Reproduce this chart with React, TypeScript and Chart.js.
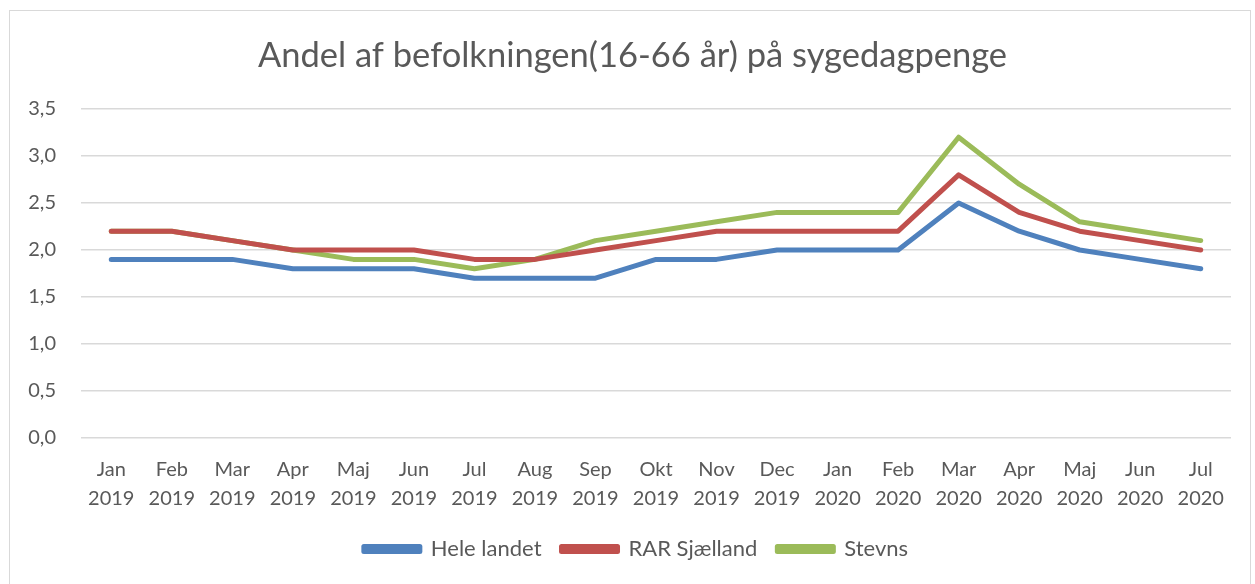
import React, { useEffect, useRef } from "react";
import { Chart, registerables } from "chart.js";

Chart.register(...registerables);

const months = [
  ["Jan", "2019"], ["Feb", "2019"], ["Mar", "2019"], ["Apr", "2019"], ["Maj", "2019"],
  ["Jun", "2019"], ["Jul", "2019"], ["Aug", "2019"], ["Sep", "2019"], ["Okt", "2019"],
  ["Nov", "2019"], ["Dec", "2019"], ["Jan", "2020"], ["Feb", "2020"], ["Mar", "2020"],
  ["Apr", "2020"], ["Maj", "2020"], ["Jun", "2020"], ["Jul", "2020"],
];

const heleLandet = [1.9, 1.9, 1.9, 1.8, 1.8, 1.8, 1.7, 1.7, 1.7, 1.9, 1.9, 2.0, 2.0, 2.0, 2.5, 2.2, 2.0, 1.9, 1.8];
const rarSjaelland = [2.2, 2.2, 2.1, 2.0, 2.0, 2.0, 1.9, 1.9, 2.0, 2.1, 2.2, 2.2, 2.2, 2.2, 2.8, 2.4, 2.2, 2.1, 2.0];
const stevns = [2.2, 2.2, 2.1, 2.0, 1.9, 1.9, 1.8, 1.9, 2.1, 2.2, 2.3, 2.4, 2.4, 2.4, 3.2, 2.7, 2.3, 2.2, 2.1];

const seriesNames = ["Hele landet", "RAR Sjælland", "Stevns"];
const seriesColors = ["#4F81BD", "#C0504D", "#9BBB59"];
const titleText = "Andel af befolkningen(16-66 år) på sygedagpenge";

const FONT = "Lato, 'Open Sans', sans-serif";
const TEXT = "#595959";

const boxShift = {
  id: "boxShift",
  afterLayout(chart: any) {
    if (chart.legend) chart.legend.left += 31;
    if (chart.titleBlock) chart.titleBlock.left += 24;
  },
};

export default function App() {
  const ref = useRef<HTMLCanvasElement | null>(null);

  useEffect(() => {
    if (!ref.current) return;
    const values = [heleLandet, rarSjaelland, stevns];
    const chart = new Chart(ref.current, {
      type: "line",
      data: {
        labels: months,
        datasets: values.map((v, i) => ({
          label: seriesNames[i],
          data: v,
          borderColor: seriesColors[i],
          backgroundColor: seriesColors[i],
          borderWidth: 5,
          pointRadius: 0,
          tension: 0,
          borderCapStyle: "round",
          borderJoinStyle: "round",
        })),
      },
      options: {
        animation: false,
        responsive: false,
        maintainAspectRatio: false,
        layout: { padding: { left: 0, right: 19, top: 0, bottom: 21 } },
        plugins: {
          title: {
            display: true,
            text: titleText,
            color: TEXT,
            font: { family: FONT, size: 34.5, weight: "normal" },
            padding: { top: 24, bottom: 32.6 },
          },
          legend: {
            position: "bottom",
            labels: {
              color: TEXT,
              font: { family: FONT, size: 22 },
              boxWidth: 56,
              boxHeight: 5,
              padding: 20,
            },
          },
          tooltip: { enabled: false },
        },
        scales: {
          x: {
            offset: true,
            grid: { display: false, drawTicks: false },
            border: { display: false },
            ticks: {
              color: TEXT,
              font: { family: FONT, size: 20, lineHeight: 1.45 },
              padding: 17,
              maxRotation: 0,
              autoSkip: false,
            },
            afterFit: (s: any) => { s.height = 80; },
          },
          y: {
            min: 0,
            max: 3.5,
            grid: { color: "#D9D9D9", lineWidth: 1.5, drawTicks: false },
            border: { display: false },
            ticks: {
              stepSize: 0.5,
              color: TEXT,
              font: { family: FONT, size: 20 },
              padding: 25,
              callback: (v: any) => Number(v).toFixed(1).replace(".", ","),
            },
            afterFit: (s: any) => { s.width = 71; },
          },
        },
      },
      plugins: [boxShift],
    });
    return () => chart.destroy();
  }, []);

  return (
    <div
      style={{
        position: "absolute",
        left: 9,
        top: 10,
        width: 1240,
        height: 580,
        border: "1px solid #D9D9D9",
        background: "#fff",
      }}
    >
      <canvas ref={ref} width={1240} height={580} style={{ display: "block" }} />
    </div>
  );
}
